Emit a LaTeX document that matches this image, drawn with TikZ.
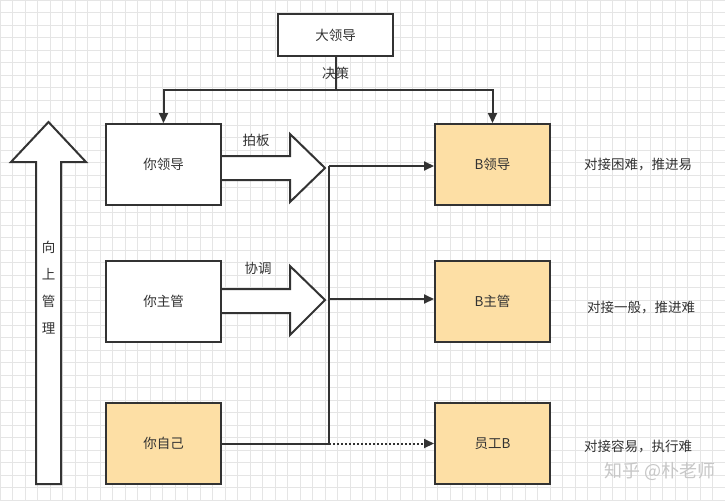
\documentclass[tikz,border=0pt]{standalone}
\usepackage{fontspec}
\setmainfont{Liberation Sans}
\newfontfamily\cjk{Noto Sans CJK SC}
\usetikzlibrary{arrows.meta}
\definecolor{boxfill}{HTML}{FDDFA5}
\definecolor{ln}{HTML}{333333}
\begin{document}
\begin{tikzpicture}[x=1pt,y=-1pt,
  box/.style={draw=ln,line width=2pt,minimum width=115pt,minimum height=81pt,inner sep=0pt,font=\cjk\fontsize{13.5}{16}\selectfont,text=ln},
  wbox/.style={box,fill=white},
  ybox/.style={box,fill=boxfill},
  lbl/.style={font=\cjk\fontsize{13.5}{16}\selectfont,text=ln,inner sep=1pt},
  con/.style={draw=ln,line width=2pt,-{Triangle[length=10pt,width=9pt]}},
  blk/.style={draw=ln,line width=2pt,fill=white,line join=miter}]
\useasboundingbox (0,0) rectangle (725,501);
\fill[white] (0,0) rectangle (725,501);
\foreach \i in {0,...,58} {\draw[black!10,line width=0.4pt] (\i*12.5,0) -- (\i*12.5,501);}
\foreach \i in {0,...,40} {\draw[black!10,line width=0.4pt] (0,\i*12.5) -- (725,\i*12.5);}
\node[wbox,minimum height=42pt] (top) at (335.5,35) {大领导};
\node[wbox] (yl) at (163.5,164.5) {你领导};
\node[wbox] (yz) at (163.5,301) {你主管};
\node[ybox] (yo) at (163.5,443.5) {你自己};
\node[ybox] (bl) at (492.5,164.5) {B领导};
\node[ybox] (bz) at (492.5,301) {B主管};
\node[ybox] (be) at (492.5,443.5) {员工B};
% up arrow
\draw[blk] (36,484) -- (36,162) -- (11,162) -- (48.5,122) -- (86,162) -- (61,162) -- (61,484) -- cycle;
\node[lbl,align=center,font=\cjk\fontsize{13.5}{27}\selectfont] (up) at (48.5,288) {向\\上\\管\\理};
% decision
\coordinate (d) at (335.5,90);
\draw[draw=ln,line width=2pt] (top.south) -- (d);
\draw[con] (d) -| (yl.north);
\draw[con] (d) -| (bl.north);
\node[lbl] (jc) at (335.5,73) {决策};
% block arrows
\draw[blk] (yl.east|-0,156) -- (290,156) -- (290,134) -- (325,168) -- (290,202) -- (290,180) -- (yl.east|-0,180);
\node[lbl] (pb) at (256,140) {拍板};
\draw[blk] (yz.east|-0,289) -- (290,289) -- (290,266) -- (325,300) -- (290,335) -- (290,313) -- (yz.east|-0,313);
\node[lbl] (xt) at (258,268) {协调};
% connectors
\coordinate (v1) at (329,166);
\coordinate (v2) at (329,299);
\coordinate (v3) at (329,443.5);
\draw[draw=ln,line width=2pt] (yo.east) -- (v3) -- (v1);
\draw[con] (v1) -- (bl.west|-v1);
\draw[con] (v2) -- (bz.west|-v2);
\draw[con,dotted] (v3) -- (be.west);
% right texts
\node[lbl] (t1) at (638,165) {对接困难，推进易};
\node[lbl] (t2) at (641,308) {对接一般，推进难};
\node[lbl] (t3) at (638,446) {对接容易，执行难};
\node[font=\cjk\fontsize{18}{20}\selectfont,text=black!22] (wm) at (660,471) {知乎 @朴老师};
\end{tikzpicture}
\end{document}
